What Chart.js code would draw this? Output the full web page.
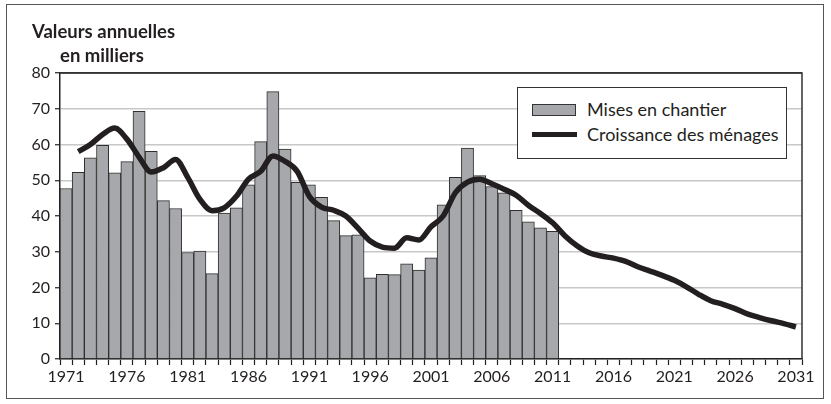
<!DOCTYPE html>
<html lang="fr">
<head>
<meta charset="utf-8">
<script src="https://cdn.jsdelivr.net/npm/chart.js@4.4.0/dist/chart.umd.min.js"></script>
<style>
  html, body { margin: 0; padding: 0; background: #fff; }
  #wrap { position: relative; width: 831px; height: 404px; font-family: Lato, "Open Sans", sans-serif; color: #231f20; }
  #frame { position: absolute; left: 6px; top: 4px; width: 816px; height: 393px; border: 1.5px solid #555; pointer-events: none; }
  .title { position: absolute; font-weight: 700; font-size: 18.5px; line-height: 22px; white-space: nowrap; }
  #legend { position: absolute; left: 517px; top: 87px; width: 270px; height: 72px; background: #fff; border: 1.5px solid #333; box-sizing: border-box; }
  .sw-bar { position: absolute; left: 14px; top: 16px; width: 44px; height: 12px; background: #a7a8ab; border: 1px solid #333; box-sizing: border-box; }
  .sw-line { position: absolute; left: 14px; top: 44px; width: 45px; height: 5px; background: #231f20; }
  .lg-text { position: absolute; left: 69px; font-size: 18px; line-height: 20px; white-space: nowrap; }
</style>
</head>
<body>
<div id="wrap">
  <canvas id="chart" width="831" height="404"></canvas>
  <div class="title" style="left:32px; top:20px;">Valeurs annuelles</div>
  <div class="title" style="left:60px; top:44px;">en milliers</div>
  <div id="legend">
    <span class="sw-bar"></span>
    <span class="lg-text" style="top:11px;">Mises en chantier</span>
    <span class="sw-line"></span>
    <span class="lg-text" style="top:36px;">Croissance des ménages</span>
  </div>
  <div id="frame"></div>
</div>
<script>
  // categories: one per year, 1971 to 2031
  const years = Array.from({ length: 61 }, (_, i) => String(1971 + i));
  const tickYears = ["1971", "1976", "1981", "1986", "1991", "1996", "2001", "2006", "2011", "2016", "2021", "2026", "2031"];

  // Mises en chantier, 1971-2011 (thousands)
  const misesEnChantier = [
    47.7, 52.2, 56.3, 59.8, 52.1, 55.2, 69.3, 58.1, 44.3, 42.1,
    29.8, 30.2, 23.9, 40.8, 42.3, 48.7, 60.8, 74.8, 58.7, 49.4,
    48.7, 45.2, 38.7, 34.5, 34.7, 22.7, 23.7, 23.6, 26.6, 24.9,
    28.3, 43.1, 50.8, 59.0, 51.3, 48.2, 46.5, 41.6, 38.4, 36.7, 35.7,
  ];

  // Croissance des ménages, 1971-2031 (thousands)
  const croissanceMenages = [
    null, 58.0, 60.0, 62.8, 64.6, 61.5, 56.5, 52.3, 53.5, 55.8,
    50.8, 44.7, 41.5, 42.3, 45.5, 50.3, 52.5, 56.8, 55.3, 52.5,
    45.5, 42.5, 41.6, 40.0, 36.6, 33.0, 31.3, 31.0, 33.9, 33.3,
    37.0, 40.0, 46.5, 49.5, 50.3, 49.0, 47.5, 45.8, 43.0, 40.7,
    38.1, 34.5, 31.7, 29.7, 28.8, 28.2, 27.3, 25.8, 24.6, 23.4,
    22.0, 20.2, 18.1, 16.3, 15.3, 14.1, 12.6, 11.6, 10.7, 9.9, 9.0,
  ];

  const yTicks = [0, 10, 20, 30, 40, 50, 60, 70, 80];

  const INK = "#231f20";
  const GRID = "#c8c8c8";

  // top and right edges of the plot area
  const plotFrame = {
    id: "plotFrame",
    beforeDatasetsDraw(chart) {
      const { ctx, chartArea: a } = chart;
      ctx.save();
      ctx.strokeStyle = "#333";
      ctx.lineWidth = 1.5;
      ctx.beginPath();
      ctx.moveTo(a.left, a.top);
      ctx.lineTo(a.right, a.top);
      ctx.lineTo(a.right, a.bottom);
      ctx.stroke();
      ctx.restore();
    },
  };

  const tickFont = { family: "Lato, 'Open Sans', sans-serif", size: 16 };

  new Chart(document.getElementById("chart"), {
    type: "bar",
    data: {
      labels: years,
      datasets: [
        {
          type: "line",
          label: "Croissance des ménages",
          data: croissanceMenages,
          borderColor: INK,
          borderWidth: 5.5,
          pointRadius: 0,
          cubicInterpolationMode: "monotone",
          spanGaps: false,
          order: 0,
        },
        {
          type: "bar",
          label: "Mises en chantier",
          data: misesEnChantier,
          backgroundColor: "#a7a8ab",
          borderColor: "#2f2f2f",
          borderWidth: 1,
          barPercentage: 1,
          categoryPercentage: 1,
          order: 1,
        },
      ],
    },
    options: {
      responsive: false,
      animation: false,
      layout: { padding: { left: 0, right: 29, top: 73, bottom: 0 } },
      plugins: {
        legend: { display: false },
        tooltip: { enabled: false },
      },
      scales: {
        x: {
          offset: true,
          grid: {
            offset: true,
            drawOnChartArea: false,
            tickLength: 6,
            tickColor: "#222",
            tickWidth: 1.2,
          },
          border: { color: "#222", width: 1.5 },
          ticks: {
            autoSkip: false,
            maxRotation: 0,
            padding: 2,
            color: INK,
            font: tickFont,
            callback: function (value) {
              const lbl = this.getLabelForValue(value);
              return tickYears.includes(lbl) ? lbl : "";
            },
          },
          afterFit: (scale) => { scale.height = 45; },
        },
        y: {
          min: 0,
          max: 80,
          afterBuildTicks: (scale) => { scale.ticks = yTicks.map((v) => ({ value: v })); },
          grid: {
            color: (c) => (c.tick && c.tick.value === 80 ? "#333" : GRID),
            lineWidth: 1.5,
            tickLength: 5,
            tickColor: "#222",
            tickWidth: 1.2,
          },
          border: { color: "#222", width: 1.5 },
          ticks: { padding: 5, color: INK, font: tickFont },
          afterFit: (scale) => { scale.width = 60; },
        },
      },
    },
    plugins: [plotFrame],
  });
</script>
</body>
</html>
